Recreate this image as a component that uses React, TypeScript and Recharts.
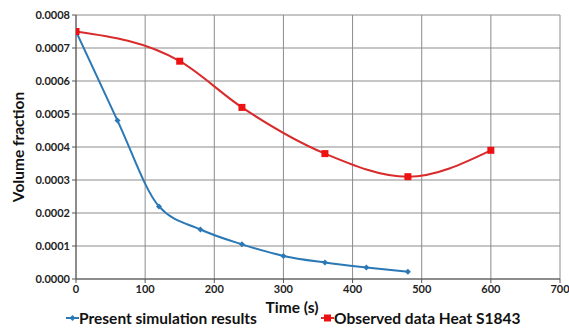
import React from "react";
import { LineChart, Line, XAxis, YAxis, CartesianGrid, Legend } from "recharts";

// valores
const simTime = [0, 60, 120, 180, 240, 300, 360, 420, 480];
const simValues = [0.00075, 0.00048, 0.00022, 0.00015, 0.000105, 0.00007, 0.00005, 0.000035, 0.000022];

const obsTime = [0, 150, 240, 360, 480, 600];
const obsValues = [0.00075, 0.00066, 0.00052, 0.00038, 0.00031, 0.00039];

const xTicks = [0, 100, 200, 300, 400, 500, 600, 700];
const yTicks = [0, 0.0001, 0.0002, 0.0003, 0.0004, 0.0005, 0.0006, 0.0007, 0.0008];

const simName = "Present simulation results";
const obsName = "Observed data Heat S1843";

const BLUE = "#2b78b6";
const RED = "#d92b2b";
const FONT = "Lato, 'Open Sans', sans-serif";

const simData = simTime.map((t, i) => ({ t, v: simValues[i] }));
const obsData = obsTime.map((t, i) => ({ t, v: obsValues[i] }));

const Diamond = (props: any) => {
  const { cx, cy } = props;
  if (cx == null || cy == null) return null;
  return <path d={`M${cx},${cy - 3}L${cx + 3},${cy}L${cx},${cy + 3}L${cx - 3},${cy}Z`} fill={BLUE} />;
};

const Square = (props: any) => {
  const { cx, cy } = props;
  if (cx == null || cy == null) return null;
  return <rect x={cx - 3.5} y={cy - 3.5} width={7} height={7} fill="#ee1111" />;
};

const LegendContent = () => (
  <div style={{ position: "relative", width: 569, height: 20, fontFamily: FONT, fontWeight: 700, fontSize: 15.5, color: "#111" }}>
    <div style={{ position: "absolute", left: 66, top: 0, display: "flex", alignItems: "center" }}>
      <svg width={13} height={10}>
        <line x1={0} y1={5} x2={13} y2={5} stroke={BLUE} strokeWidth={2} />
        <path d="M6.5,2L9.5,5L6.5,8L3.5,5Z" fill={BLUE} />
      </svg>
      <span>{simName}</span>
    </div>
    <div style={{ position: "absolute", left: 321, top: 0, display: "flex", alignItems: "center" }}>
      <svg width={13} height={10}>
        <line x1={0} y1={5} x2={13} y2={5} stroke={RED} strokeWidth={2} />
        <rect x={3} y={1.5} width={7} height={7} fill="#ee1111" />
      </svg>
      <span>{obsName}</span>
    </div>
  </div>
);

export default function App() {
  return (
    <div style={{ position: "absolute", left: 0, top: 0, width: 569, height: 331, background: "#fff" }}>
      <LineChart width={569} height={331} margin={{ top: 15, right: 9, left: 0, bottom: 0 }}>
        <CartesianGrid stroke="#8c8c8c" strokeWidth={1} />
        <XAxis
          type="number"
          dataKey="t"
          domain={[0, 700]}
          ticks={xTicks}
          allowDataOverflow
          stroke="#555"
          tickSize={4}
          tick={{ fill: "#222", fontSize: 11, fontWeight: 700, fontFamily: FONT }}
          height={32}
          label={{ value: "Time (s)", position: "insideTop", offset: 23, dx: -26, style: { fill: "#111", fontSize: 15.5, fontWeight: 700, fontFamily: FONT } }}
        />
        <YAxis
          type="number"
          dataKey="v"
          domain={[0, 0.0008]}
          ticks={yTicks}
          stroke="#555"
          tickSize={4}
          width={76}
          tickFormatter={(v: number) => v.toFixed(4)}
          tick={{ fill: "#222", fontSize: 11, fontWeight: 700, fontFamily: FONT }}
          label={{ value: "Volume fraction", angle: -90, position: "insideLeft", offset: 18, style: { textAnchor: "middle", fill: "#111", fontSize: 15.5, fontWeight: 700, fontFamily: FONT } }}
        />
        <Legend verticalAlign="bottom" content={<LegendContent />} wrapperStyle={{ left: 0, bottom: 2, width: 569 }} />
        <Line
          data={simData}
          dataKey="v"
          name={simName}
          type="monotone"
          stroke={BLUE}
          strokeWidth={2}
          dot={<Diamond />}
          isAnimationActive={false}
        />
        <Line
          data={obsData}
          dataKey="v"
          name={obsName}
          type="monotone"
          stroke={RED}
          strokeWidth={2}
          dot={<Square />}
          isAnimationActive={false}
        />
      </LineChart>
    </div>
  );
}
